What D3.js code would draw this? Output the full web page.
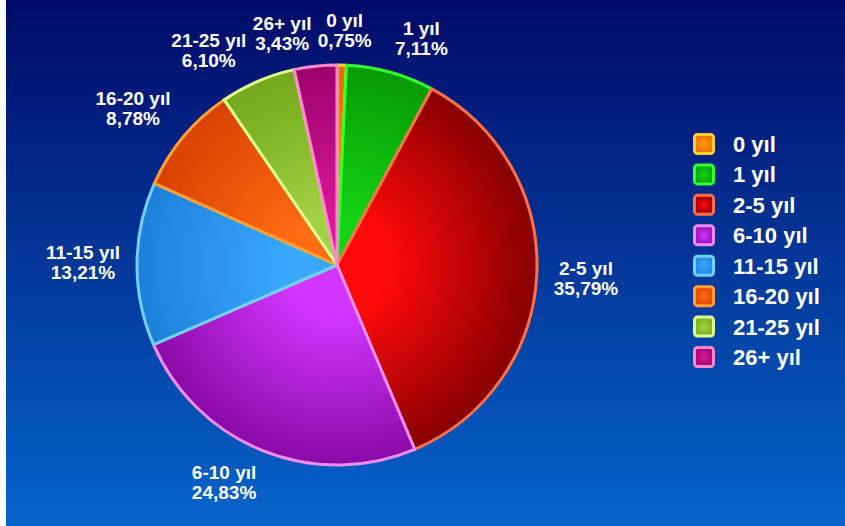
<!DOCTYPE html>
<html>
<head>
<meta charset="utf-8">
<title>Kıdem dağılımı</title>
<style>
  html, body { margin: 0; padding: 0; background: #fff; }
  svg { display: block; }
  text { font-family: "Liberation Sans", Arial, sans-serif; font-weight: bold; fill: #fff; }
</style>
</head>
<body>
<svg id="chart" width="845" height="526"></svg>
<script src="https://cdn.jsdelivr.net/npm/d3@7/dist/d3.min.js"></script>
<script>
// data
var categories = ["0 yıl", "1 yıl", "2-5 yıl", "6-10 yıl", "11-15 yıl", "16-20 yıl", "21-25 yıl", "26+ yıl"];
var shares = [0.75, 7.11, 35.79, 24.83, 13.21, 8.78, 6.10, 3.43];

// slice colours: centre, rim, border
var lightColors = ["#ff9a10", "#14d214", "#ff0a0a", "#d236ff", "#3aa8ff", "#ff6c12", "#a2d242", "#d81898"];
var darkColors  = ["#e86a00", "#069a06", "#860000", "#8a0aa6", "#1e80d8", "#d84200", "#72a81a", "#9c006c"];
var edgeColors  = ["#ffd030", "#30ff30", "#ff7048", "#f08cff", "#70d0ff", "#ffa030", "#e0ff90", "#ff88d0"];

var svg = d3.select("#chart"),
  width = +svg.attr("width"),
  height = +svg.attr("height");

var defs = svg.append("defs");

// background
var bg = defs.append("linearGradient").attr("id", "bg")
  .attr("x1", 0).attr("y1", 0).attr("x2", 0).attr("y2", 1);
bg.append("stop").attr("offset", 0).attr("stop-color", "#000a68");
bg.append("stop").attr("offset", 1).attr("stop-color", "#0564ca");
svg.append("rect").attr("x", 6).attr("y", 0)
  .attr("width", width - 6).attr("height", height)
  .attr("fill", "url(#bg)");

var data = categories.map(function (c, i) { return { name: c, value: shares[i], i: i }; });

var cx = 337, cy = 265, radius = 200;

var color = d3.scaleOrdinal().domain(categories).range(edgeColors);

categories.forEach(function (c, i) {
  var g = defs.append("radialGradient").attr("id", "slice" + i)
    .attr("gradientUnits", "userSpaceOnUse")
    .attr("cx", 0).attr("cy", 0).attr("r", radius);
  g.append("stop").attr("offset", 0).attr("stop-color", lightColors[i]);
  g.append("stop").attr("offset", 0.25).attr("stop-color", lightColors[i]);
  g.append("stop").attr("offset", 1).attr("stop-color", darkColors[i]);

  var lg = defs.append("radialGradient").attr("id", "leg" + i)
    .attr("cx", 0.5).attr("cy", 0.5).attr("r", 0.6);
  lg.append("stop").attr("offset", 0).attr("stop-color", lightColors[i]);
  lg.append("stop").attr("offset", 1).attr("stop-color", darkColors[i]);
});

var pie = d3.pie().sort(null).value(function (d) { return d.value; });
var arc = d3.arc().innerRadius(0).outerRadius(radius);
var arcs = pie(data);

var pieG = svg.append("g").attr("transform", "translate(" + cx + "," + cy + ")");
pieG.selectAll("path")
  .data(arcs)
  .enter()
  .append("path")
    .attr("d", arc)
    .attr("fill", function (d) { return "url(#slice" + d.data.i + ")"; })
    .attr("stroke", function (d) { return color(d.data.name); })
    .attr("stroke-width", 3)
    .attr("stroke-linejoin", "round");

// labels
var fmt = d3.formatLocale({ decimal: ",", thousands: ".", grouping: [3], currency: ["", ""] }).format(".2f");

var labelG = svg.append("g").attr("transform", "translate(" + cx + "," + cy + ")");
var labels = labelG.selectAll("text")
  .data(arcs)
  .enter()
  .append("text")
    .attr("text-anchor", "middle")
    .style("font-size", "19px");
labels.append("tspan").attr("class", "l1").attr("x", 0).attr("y", -4).text(function (d) { return d.data.name; });
labels.append("tspan").attr("class", "l2").attr("x", 0).attr("y", 16).text(function (d) { return fmt(d.data.value) + "%"; });

// label box corner sits on a circle; labels are placed from the top outward
// and slid along the circle until they clear the ones already placed
var R = 217, k = 4;
var boxes = [];
labels.each(function (d) {
  var t = d3.select(this);
  var w = Math.max(t.select(".l1").node().getComputedTextLength(), t.select(".l2").node().getComputedTextLength());
  var a = (d.startAngle + d.endAngle) / 2;
  if (a > Math.PI) a -= 2 * Math.PI;
  boxes.push({ a: a, w: w, h: 34, node: this });
});
function place(b) {
  var s = Math.sin(b.a), c = Math.cos(b.a);
  b.x = R * s + b.w / 2 * Math.max(-1, Math.min(1, s * k));
  b.y = -R * c - b.h / 2 * Math.max(-1, Math.min(1, c * k));
}
function hits(p, q) {
  return Math.abs(p.x - q.x) < (p.w + q.w) / 2 + 6 && Math.abs(p.y - q.y) < (p.h + q.h) / 2 + 4;
}
var placed = [];
boxes.slice().sort(function (p, q) { return Math.abs(p.a) - Math.abs(q.a); })
  .forEach(function (b) {
    var dir = b.a < 0 ? -1 : 1;
    place(b);
    var n = 0;
    while (placed.some(function (p) { return hits(p, b); }) && n++ < 500) {
      b.a += dir * 0.003;
      place(b);
    }
    placed.push(b);
  });
boxes.forEach(function (b) {
  d3.select(b.node).attr("transform", "translate(" + b.x + "," + b.y + ")");
});

// legend
var ly = d3.scalePoint().domain(categories).range([144, 357]);
var legend = svg.append("g").selectAll("g")
  .data(data)
  .enter()
  .append("g")
    .attr("transform", function (d) { return "translate(693," + ly(d.name) + ")"; });
legend.append("rect")
  .attr("x", 1.5).attr("y", -9.5)
  .attr("width", 19).attr("height", 19)
  .attr("rx", 3)
  .attr("fill", function (d) { return "url(#leg" + d.i + ")"; })
  .attr("stroke", function (d) { return color(d.name); })
  .attr("stroke-width", 3);
legend.append("text")
  .attr("x", 40).attr("y", 8)
  .style("font-size", "22px")
  .text(function (d) { return d.name; });
</script>
</body>
</html>
